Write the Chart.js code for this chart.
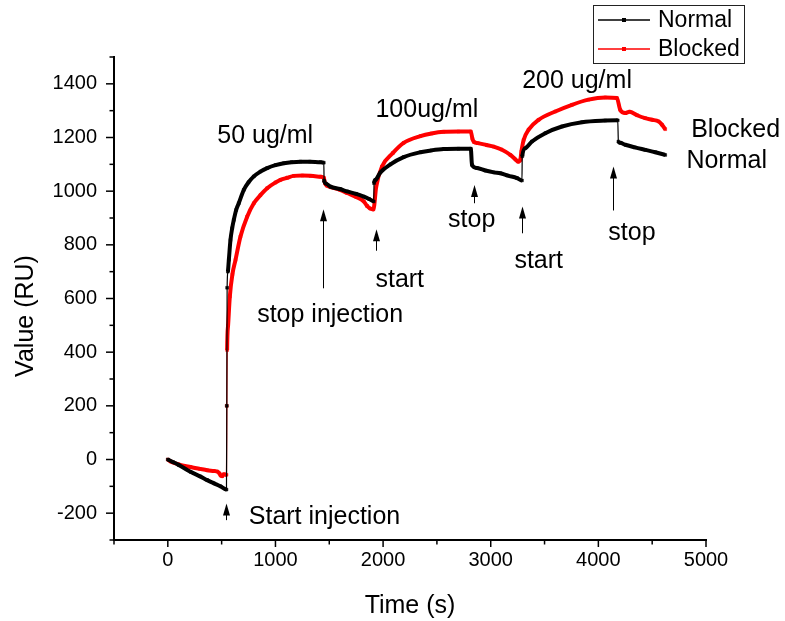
<!DOCTYPE html>
<html>
<head>
<meta charset="utf-8">
<script src="https://cdn.jsdelivr.net/npm/chart.js@4.4.1/dist/chart.umd.min.js"></script>
<style>
html,body{margin:0;padding:0;background:#fff;}
#c{display:block;}
</style>
</head>
<body>
<canvas id="c" width="785" height="621"></canvas>
<script>
// ---------- data (time in s, value in RU) ----------
const seriesNames = ['Normal', 'Blocked'];
const seriesColors = ['#000000', '#ff0000'];

const normalPoints = [
  [0,0],[50,-10],[100,-20],[211,-46],[300,-63],[366,-77],[430,-89],[489,-100],[545,-112],
  [548,200],[551,640],[558,700],[567,744],[582,818],[598,862],[613,893],[635,930],[659,955],
  [706,1005],[750,1033],[799,1055],[860,1073],[923,1086],[1000,1097],[1077,1104],[1150,1108],
  [1232,1110],[1320,1110],[1418,1108],[1449,1106],
  [1452,1040],[1470,1028],[1511,1017],[1600,1008],[1666,999],[1750,990],[1820,980],[1870,971],[1913,962],
  [1916,1030],[1929,1042],[1975,1070],[2068,1100],[2191,1127],[2346,1145],[2450,1152],[2563,1157],[2700,1158],[2815,1158],
  [2826,1098],[2873,1086],[2950,1077],[3030,1070],[3089,1067],[3160,1058],[3244,1049],[3290,1040],
  [3293,1130],[3321,1160],[3383,1185],[3507,1216],[3662,1241],[3848,1257],[4064,1263],[4180,1264],
  [4186,1185],[4203,1180],[4250,1173],[4340,1163],[4435,1154],[4530,1145],[4621,1135]
];

const blockedPoints = [
  [0,0],[30,-8],[100,-18],[211,-28],[300,-35],[366,-40],[430,-43],[459,-45],[480,-52],[492,-60],[505,-62],[520,-55],[545,-57],
  [548,200],[551,408],[560,500],[576,607],[600,690],[629,744],[675,831],[737,905],[799,955],[860,985],
  [923,1011],[1000,1032],[1046,1042],[1110,1050],[1170,1057],[1250,1058],[1325,1057],[1418,1054],[1449,1050],
  [1460,1030],[1480,1020],[1511,1015],[1600,1005],[1666,993],[1750,978],[1820,962],[1851,945],[1880,935],[1910,932],
  [1936,1017],[1990,1092],[2090,1142],[2191,1180],[2346,1205],[2450,1215],[2563,1221],[2700,1222],[2815,1222],
  [2830,1195],[2845,1183],[2880,1179],[2960,1172],[3027,1166],[3100,1155],[3182,1135],[3230,1118],[3255,1110],[3275,1117],
  [3285,1148],[3306,1191],[3352,1229],[3445,1266],[3600,1297],[3755,1322],[3909,1341],[4064,1349],[4172,1347],
  [4203,1303],[4250,1291],[4290,1296],[4360,1283],[4435,1272],[4500,1266],[4559,1260],[4590,1248],[4621,1231]
];

// axis ranges and ticks
const xMin = -500, xMax = 5000, xMinor = 500;
const yMin = -300, yMax = 1500, yMinor = 100;
const xTickValues = [0, 1000, 2000, 3000, 4000, 5000];
const yTickValues = [-200, 0, 200, 400, 600, 800, 1000, 1200, 1400];
const xTitle = 'Time (s)';
const yTitle = 'Value (RU)';

// annotation texts (anchored in data coordinates, left/baseline)
const annotationTexts = [
  {text:'50 ug/ml', t:459, v:1181},
  {text:'100ug/ml', t:1929, v:1277},
  {text:'200 ug/ml', t:3292, v:1383},
  {text:'Blocked', t:4862, v:1202},
  {text:'Normal', t:4818, v:1086},
  {text:'stop injection', t:830, v:513},
  {text:'start', t:1929, v:641},
  {text:'stop', t:2604, v:866},
  {text:'start', t:3220, v:712},
  {text:'stop', t:4093, v:817},
  {text:'Start injection', t:752, v:-242}
];
// arrows: time, tip value, tail value
const arrowMarks = [
  {t:537, tip:-164, tail:-226},
  {t:1440, tip:933, tail:638},
  {t:1935, tip:858, tail:778},
  {t:2848, tip:1023, tail:955},
  {t:3290, tip:943, tail:843},
  {t:4135, tip:1092, tail:928}
];

const FONT = '"Liberation Sans", Arial, Helvetica, sans-serif';
Chart.defaults.font.family = FONT;
Chart.defaults.color = '#000';

function toXY(arr){ return arr.map(p => ({x:p[0], y:p[1]})); }

function makeDataset(i, pts){
  return {
    label: seriesNames[i],
    data: toXY(pts),
    showLine: true,
    borderColor: seriesColors[i],
    backgroundColor: seriesColors[i],
    borderWidth: 4,
    pointStyle: 'rect',
    pointRadius: 2,
    pointBorderWidth: 0.5,
    pointHoverRadius: 2,
    cubicInterpolationMode: 'monotone',
    segment: {
      borderWidth: ctx => (ctx.p1.parsed.x - ctx.p0.parsed.x < 8 ? 1.2 : 4)
    }
  };
}

const overlay = {
  id: 'overlay',
  afterDraw(chart){
    const ctx = chart.ctx, xs = chart.scales.x, ys = chart.scales.y, ca = chart.chartArea;
    ctx.save();
    ctx.strokeStyle = '#000';
    ctx.fillStyle = '#000';
    ctx.lineWidth = 1.5;
    // y ticks (major + minor)
    for (let v = yMin; v <= yMax; v += yMinor){
      const py = ys.getPixelForValue(v);
      const len = yTickValues.includes(v) ? 8 : 4.5;
      ctx.beginPath(); ctx.moveTo(ca.left - len, py); ctx.lineTo(ca.left, py); ctx.stroke();
    }
    // x ticks
    for (let t = xMin; t <= xMax; t += xMinor){
      const px = xs.getPixelForValue(t);
      const len = xTickValues.includes(t) ? 7 : 4.5;
      ctx.beginPath(); ctx.moveTo(px, ca.bottom); ctx.lineTo(px, ca.bottom + len); ctx.stroke();
    }
    // axis titles
    ctx.font = '25px ' + FONT;
    ctx.textAlign = 'center';
    ctx.textBaseline = 'alphabetic';
    ctx.fillText(xTitle, (ca.left + ca.right) / 2, 613);
    ctx.save();
    ctx.translate(33, 316);
    ctx.rotate(-Math.PI / 2);
    ctx.fillText(yTitle, 0, 0);
    ctx.restore();
    // annotations
    ctx.textAlign = 'left';
    annotationTexts.forEach(a => {
      ctx.fillText(a.text, xs.getPixelForValue(a.t), ys.getPixelForValue(a.v));
    });
    // arrows
    ctx.lineWidth = 1;
    arrowMarks.forEach(a => {
      const px = Math.round(xs.getPixelForValue(a.t)) + 0.5;
      const yTip = ys.getPixelForValue(a.tip);
      const yTail = ys.getPixelForValue(a.tail);
      ctx.beginPath(); ctx.moveTo(px, yTail); ctx.lineTo(px, yTip + 10); ctx.stroke();
      ctx.beginPath(); ctx.moveTo(px, yTip); ctx.lineTo(px - 3.5, yTip + 12); ctx.lineTo(px + 3.5, yTip + 12); ctx.closePath(); ctx.fill();
    });
    // legend
    const lx = 593.5, ly = 5.5, lw = 151, lh = 58;
    ctx.strokeStyle = '#222';
    ctx.lineWidth = 1;
    ctx.strokeRect(lx, ly, lw, lh);
    ctx.font = '23px ' + FONT;
    ctx.textBaseline = 'middle';
    chart.data.datasets.forEach((ds, i) => {
      const yy = 20 + i * 29;
      ctx.strokeStyle = ds.borderColor;
      ctx.fillStyle = ds.borderColor;
      ctx.lineWidth = 1.5;
      ctx.beginPath(); ctx.moveTo(598, yy); ctx.lineTo(650, yy); ctx.stroke();
      ctx.fillRect(622, yy - 2, 4, 4);
      ctx.fillStyle = '#000';
      ctx.fillText(ds.label, 658, yy + 1);
    });
    ctx.restore();
  }
};

new Chart(document.getElementById('c'), {
  type: 'scatter',
  data: { datasets: [makeDataset(0, normalPoints), makeDataset(1, blockedPoints)] },
  options: {
    responsive: false,
    animation: false,
    devicePixelRatio: 1,
    layout: { padding: { top: 57, right: 79, left: 0, bottom: 0 } },
    plugins: { legend: { display: false }, tooltip: { enabled: false } },
    scales: {
      x: {
        type: 'linear', min: xMin, max: xMax,
        afterBuildTicks: s => { s.ticks = xTickValues.map(v => ({ value: v })); },
        ticks: { font: { size: 20 }, color: '#000', padding: 8, maxRotation: 0, autoSkip: false, callback: v => String(v) },
        grid: { display: false, drawTicks: false },
        border: { display: true, color: '#000', width: 2 },
        afterFit: s => { s.height = 81; }
      },
      y: {
        type: 'linear', min: yMin, max: yMax,
        afterBuildTicks: s => { s.ticks = yTickValues.map(v => ({ value: v })); },
        ticks: { font: { size: 20 }, color: '#000', padding: 17, autoSkip: false, callback: v => String(v) },
        grid: { display: false, drawTicks: false },
        border: { display: true, color: '#000', width: 2 },
        afterFit: s => { s.width = 114; }
      }
    }
  },
  plugins: [overlay]
});
</script>
</body>
</html>
